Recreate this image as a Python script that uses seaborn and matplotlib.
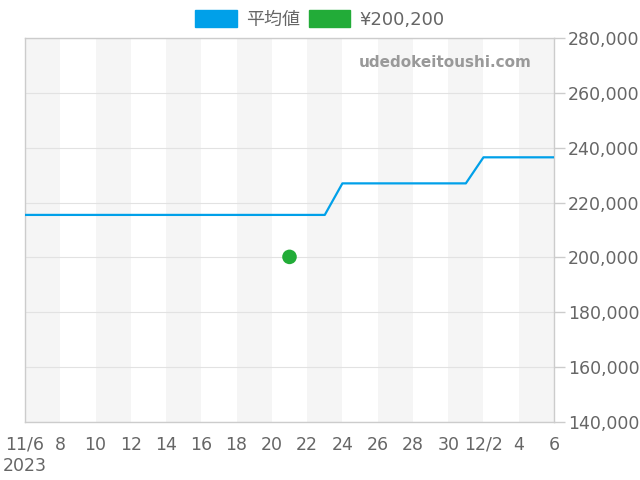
import numpy as np
import pandas as pd
import matplotlib
matplotlib.use("Agg")
import matplotlib.pyplot as plt
from matplotlib.patches import Patch
import seaborn as sns

# daily average price, 2023-11-06 .. 2023-12-06
dates = pd.date_range("2023-11-06", "2023-12-06", freq="D")
avg_price = [215500] * 18 + [227000] * 8 + [236500] * 5
point_date = pd.Timestamp("2023-11-21")
point_price = 200200

tick_dates = pd.date_range("2023-11-06", "2023-12-06", freq="2D")
tick_labels = ["11/6\n2023", "8", "10", "12", "14", "16", "18", "20",
               "22", "24", "26", "28", "30", "12/2", "4", "6"]
y_ticks = list(range(140000, 280001, 20000))

blue = "#00A0E9"
green = "#22AC38"
text_col = "#666666"

sns.set_style("white")
plt.rcParams['font.family'] = ['DejaVu Sans', 'Noto Sans CJK JP']

df = pd.DataFrame({"date": dates, "price": avg_price})

fig = plt.figure(figsize=(6.4, 4.8), dpi=100)
ax = fig.add_axes([25 / 640, 58 / 480, 529 / 640, 384 / 480])

# alternating background bands every 2 days
for i in range(0, len(tick_dates) - 1, 2):
    ax.axvspan(tick_dates[i], tick_dates[i + 1], color="#f5f5f5", lw=0, zorder=0)

for y in y_ticks:
    ax.axhline(y, color="#e2e2e2", lw=0.8, zorder=1)

sns.lineplot(data=df, x="date", y="price", color=blue, lw=1.6, ax=ax, zorder=3)
sns.scatterplot(x=[point_date], y=[point_price], color=green, s=110,
                edgecolor="none", ax=ax, zorder=4)

ax.set_xlim(dates[0], dates[-1])
ax.set_ylim(140000, 280000)
ax.set_xticks(tick_dates)
ax.set_xticklabels(tick_labels)
ax.set_yticks(y_ticks)
ax.set_yticklabels([f"{v:,}" for v in y_ticks])
ax.yaxis.tick_right()
ax.set_xlabel("")
ax.set_ylabel("")
ax.tick_params(axis="both", colors="#cccccc", labelcolor=text_col,
               labelsize=12.5, length=8, width=1)
ax.tick_params(axis="x", pad=2)
ax.tick_params(axis="y", pad=2)
for s in ax.spines.values():
    s.set_color("#cccccc")
    s.set_linewidth(1)

ax.text(0.957, 0.935, "udedokeitoushi.com", transform=ax.transAxes,
        ha="right", va="center", fontsize=11, fontweight="bold", color="#999999")

handles = [Patch(color=blue, label="平均値"), Patch(color=green, label="¥200,200")]
fig.legend(handles=handles, loc="upper center", bbox_to_anchor=(0.5, 1.012),
           ncol=2, frameon=False, handlelength=2.3, handleheight=1.05,
           columnspacing=0.5, handletextpad=0.5, labelcolor=text_col,
           prop={"family": ["DejaVu Sans", "Noto Sans CJK JP"], "size": 13})

fig.savefig("out.png", dpi=100)
